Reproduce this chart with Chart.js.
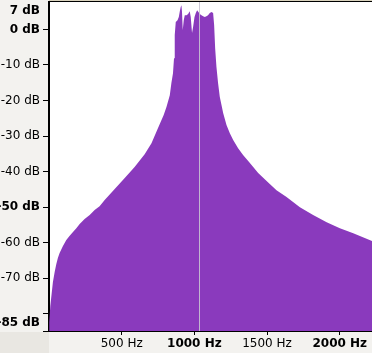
<!DOCTYPE html>
<html>
<head>
<meta charset="utf-8">
<script src="https://cdn.jsdelivr.net/npm/chart.js@4"></script>
<style>
  html, body { margin: 0; padding: 0; background: #f3f2ef; }
  #wrap { width: 372px; height: 353px; position: relative; }
</style>
</head>
<body>
<div id="wrap"><canvas id="espectro"></canvas></div>
<script>
// Frecuencias (Hz) y nivel (dB)
const freqHz = [0, 2, 9, 18, 27, 39, 50, 61, 73, 96, 119, 141, 165, 188, 211, 245, 280, 314, 348, 383,
  452, 521, 589, 658, 705, 750, 789, 808, 831, 842, 853, 860, 865, 872, 884, 893, 899, 906, 911, 915,
  920, 927, 934, 946, 957, 968, 975, 984, 991, 1001, 1010, 1019, 1028, 1037, 1049, 1060, 1072, 1083,
  1094, 1106, 1118, 1129, 1136, 1143, 1152, 1163, 1175, 1187, 1198, 1221, 1244, 1267, 1301, 1335,
  1382, 1439, 1497, 1565, 1634, 1726, 1817, 1910, 2001, 2093, 2222];
const levelDb = [-84.8, -82.3, -77.8, -74.4, -71.0, -68.2, -66.0, -64.3, -62.9, -60.9, -59.2, -58.1, -57.0, -55.9, -54.7, -53.3, -52.2, -50.8, -49.7, -48.0,
  -44.9, -41.8, -38.7, -35.1, -32.0, -27.7, -24.1, -21.8, -18.5, -15.1, -12.3, -8.1, -1.6, 2.1, 2.6, 3.5, 4.9, 6.3, 6.8, 4.9,
  -0.2, 2.6, 4.0, 4.0, 4.3, 5.1, 3.5, -1.0, 0.6, 3.5, 4.6, 5.4, 4.9, 4.3, 4.0, 3.7, 3.5, 3.7,
  4.0, 4.6, 4.9, 4.6, 1.2, -5.3, -10.6, -15.1, -19.0, -21.3, -23.5, -26.9, -29.2, -31.1, -33.4, -35.3,
  -37.6, -40.4, -42.6, -45.2, -47.1, -50.0, -52.2, -54.2, -55.9, -57.3, -59.5];

// Ejes
const xTicksHz = [500, 1000, 1500, 2000];
const xBoldHz = [1000, 2000];
const yTicksDb = [0, -10, -20, -30, -40, -50, -60, -70, -80];
const yBoldDb = [0, -50];
const yMax = 7.7, yMin = -84.8;
const xMax = 2222;
const cursorHz = 1032;

const puntos = freqHz.map((f, i) => ({ x: f, y: levelDb[i] }));

Chart.defaults.font.family = "'DejaVu Sans', sans-serif";
Chart.defaults.font.size = 12;
Chart.defaults.color = '#000';

// Fondo, cursor y etiquetas de los extremos
const decoracion = {
  id: 'decoracion',
  beforeDraw(chart) {
    const { ctx, chartArea: a, width, height } = chart;
    ctx.save();
    ctx.fillStyle = '#f3f2ef';
    ctx.fillRect(0, 0, width, height);
    ctx.fillStyle = '#e9e7e2';
    ctx.fillRect(0, a.bottom + 1, a.left, height - a.bottom);
    ctx.fillStyle = '#ffffff';
    ctx.fillRect(a.left, a.top, a.right - a.left, a.bottom - a.top);
    ctx.restore();
  },
  afterDatasetsDraw(chart) {
    const { ctx, chartArea: a, scales } = chart;
    const cx = Math.round(scales.x.getPixelForValue(cursorHz)) + 0.5;
    ctx.save();
    ctx.strokeStyle = 'rgba(200,195,210,0.9)';
    ctx.lineWidth = 1;
    ctx.beginPath();
    ctx.moveTo(cx, a.top);
    ctx.lineTo(cx, a.bottom);
    ctx.stroke();
    // línea superior
    ctx.strokeStyle = '#d9d2bd';
    ctx.beginPath();
    ctx.moveTo(a.left, 0.5);
    ctx.lineTo(a.right, 0.5);
    ctx.stroke();
    ctx.strokeStyle = '#000';
    ctx.beginPath();
    ctx.moveTo(a.left, 1.5);
    ctx.lineTo(a.right, 1.5);
    ctx.stroke();
    // etiquetas de los extremos
    ctx.fillStyle = '#000';
    ctx.font = "bold 12px 'DejaVu Sans'";
    ctx.textAlign = 'right';
    ctx.textBaseline = 'middle';
    ctx.fillText('7 dB', a.left - 9, scales.y.getPixelForValue(yMax) + 9);
    ctx.fillText('-85 dB', a.left - 9, scales.y.getPixelForValue(yMin) - 8.5);
    ctx.restore();
  }
};

new Chart(document.getElementById('espectro'), {
  type: 'line',
  data: {
    datasets: [{
      data: puntos,
      borderWidth: 0,
      borderColor: '#8a3abd',
      backgroundColor: '#8a3abd',
      fill: 'start',
      pointRadius: 0,
      tension: 0
    }]
  },
  options: {
    responsive: true,
    maintainAspectRatio: false,
    animation: false,
    layout: { padding: { top: 2, right: 0, left: 0, bottom: 0 } },
    plugins: {
      legend: { display: false },
      tooltip: { enabled: false }
    },
    scales: {
      x: {
        type: 'linear',
        min: 0,
        max: xMax,
        afterFit: s => { s.height = 22; s.paddingLeft = 0; s.paddingRight = 0; },
        afterBuildTicks: s => { s.ticks = xTicksHz.map(v => ({ value: v })); },
        grid: { drawOnChartArea: false, drawTicks: true, tickLength: 4, color: '#000' },
        border: { color: '#000', width: 2 },
        ticks: {
          padding: 2,
          maxRotation: 0,
          callback: v => v + ' Hz',
          font: c => ({ weight: xBoldHz.includes(c.tick && c.tick.value) ? 'bold' : 'normal' })
        }
      },
      y: {
        min: yMin,
        max: yMax,
        afterFit: s => { s.width = 49; s.paddingTop = 0; s.paddingBottom = 0; },
        afterBuildTicks: s => { s.ticks = yTicksDb.concat([yMin]).map(v => ({ value: v })); },
        grid: { drawOnChartArea: false, drawTicks: true, tickLength: 6, color: '#000' },
        border: { color: '#000', width: 2 },
        ticks: {
          padding: 3,
          callback: v => (v === -80 || v === yMin) ? '' : v + ' dB',
          font: c => ({ weight: yBoldDb.includes(c.tick && c.tick.value) ? 'bold' : 'normal' })
        }
      }
    }
  },
  plugins: [decoracion]
});
</script>
</body>
</html>
